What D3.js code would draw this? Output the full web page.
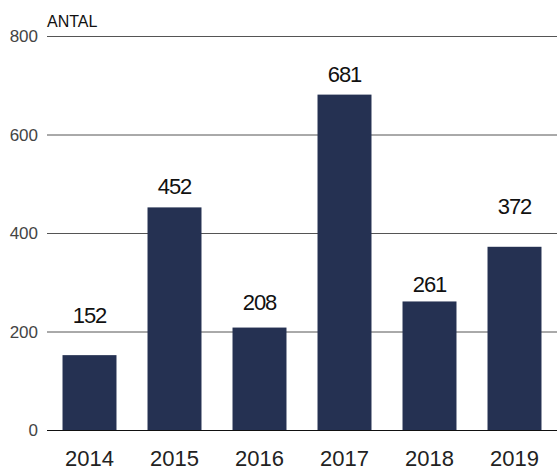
<!DOCTYPE html>
<html>
<head>
<meta charset="utf-8">
<script src="https://cdn.jsdelivr.net/npm/d3@7"></script>
<style>
  html, body { margin: 0; padding: 0; background: #fff; }
  svg text { font-family: "Liberation Sans", Arial, Helvetica, sans-serif; }
</style>
</head>
<body>
<div id="chart"></div>
<script>
// data
var years = ['2014', '2015', '2016', '2017', '2018', '2019'];
var counts = [152, 452, 208, 681, 261, 372];
// where the value labels sit (in data units)
var labelAt = [218, 479, 244, 706, 280, 439];
var yTicks = [0, 200, 400, 600, 800];

var W = 557, H = 470;
var plotLeft = 47, plotRight = 557, plotTop = 36, plotBottom = 430;

var svg = d3.select('#chart').append('svg')
    .attr('width', W)
    .attr('height', H);

var x = d3.scaleBand()
    .domain(years)
    .range([plotLeft, plotRight])
    .paddingInner(0.365)
    .paddingOuter(0.1825);

var y = d3.scaleLinear()
    .domain([0, 800])
    .range([plotBottom, plotTop]);

// gridlines
svg.append('g').selectAll('line')
    .data(yTicks)
    .enter().append('line')
    .attr('x1', plotLeft)
    .attr('x2', plotRight)
    .attr('y1', function(d) { return y(d) + 0.5; })
    .attr('y2', function(d) { return y(d) + 0.5; })
    .attr('stroke', function(d) { return d === 0 ? '#111' : '#555'; })
    .attr('stroke-width', 1);

// y tick labels
svg.append('g').selectAll('text')
    .data(yTicks)
    .enter().append('text')
    .attr('x', 38)
    .attr('y', function(d) { return y(d); })
    .attr('dy', '0.36em')
    .attr('text-anchor', 'end')
    .attr('font-size', 17)
    .attr('fill', '#444')
    .text(function(d) { return d; });

svg.append('text')
    .attr('x', 47)
    .attr('y', 26.5)
    .attr('font-size', 16)
    .attr('fill', '#111')
    .text('ANTAL');

// bars
svg.append('g').selectAll('rect')
    .data(counts)
    .enter().append('rect')
    .attr('x', function(d, i) { return x(years[i]); })
    .attr('width', x.bandwidth())
    .attr('y', function(d) { return y(d); })
    .attr('height', function(d) { return plotBottom - y(d); })
    .attr('fill', '#253152');

// value labels
svg.append('g').selectAll('text')
    .data(counts)
    .enter().append('text')
    .attr('x', function(d, i) { return x(years[i]) + x.bandwidth() / 2; })
    .attr('y', function(d, i) { return y(labelAt[i]); })
    .attr('text-anchor', 'middle')
    .attr('font-size', 22)
    .attr('letter-spacing', -1)
    .attr('fill', '#111')
    .text(function(d) { return d; });

// x axis labels
svg.append('g').selectAll('text')
    .data(years)
    .enter().append('text')
    .attr('x', function(d) { return x(d) + x.bandwidth() / 2; })
    .attr('y', 466)
    .attr('text-anchor', 'middle')
    .attr('font-size', 22)
    .attr('fill', '#222')
    .text(function(d) { return d; });
</script>
</body>
</html>
